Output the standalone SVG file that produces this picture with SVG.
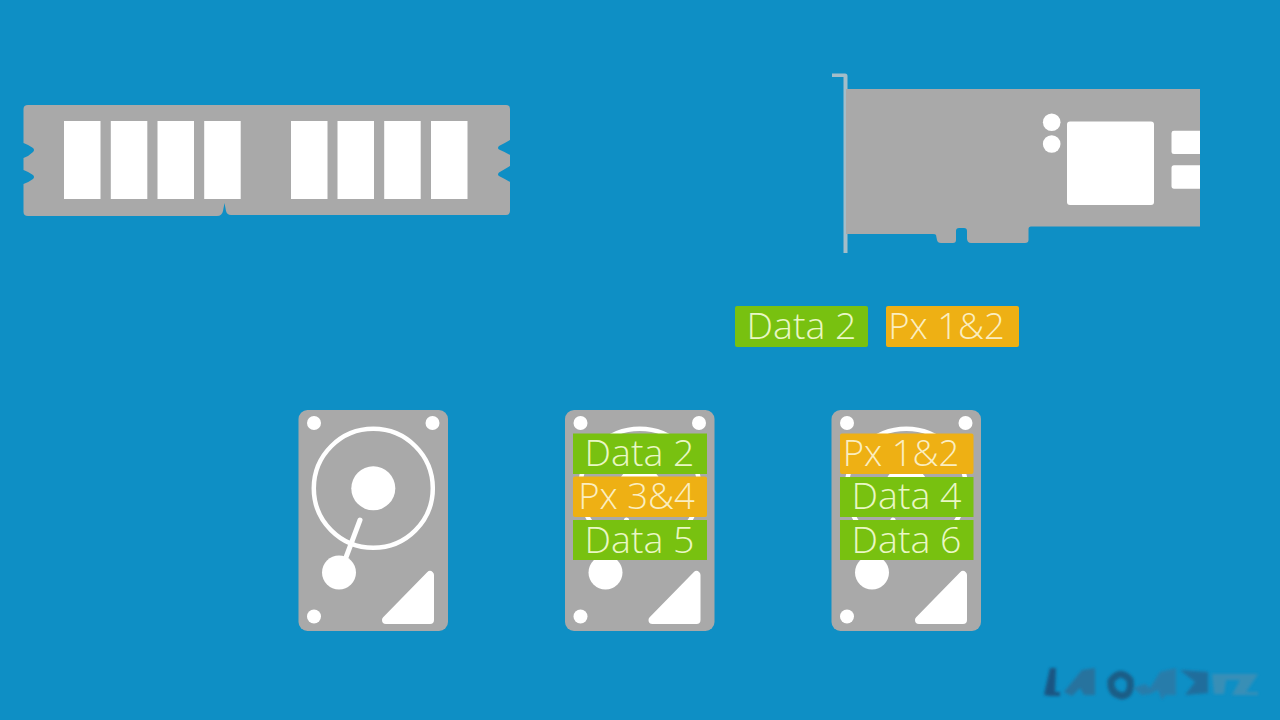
<svg xmlns="http://www.w3.org/2000/svg" width="1280" height="720" viewBox="0 0 1280 720">
<defs>
<style>
.g{fill:#a9a9a9}
.w{fill:#fff}
.gr{fill:#78c110}
.or{fill:#eeb014}
text{font-family:"Open Sans","Liberation Sans",sans-serif;font-weight:300;font-size:37.500px;fill:#e9f7c4;text-anchor:middle}
.or+text{fill:#fbeec0;font-size:36.500px}
</style>
<filter id="b" x="-10%" y="-30%" width="120%" height="160%"><feGaussianBlur stdDeviation="1.600"/></filter>
<g id="hdd">
<rect class="g" x="298.500" y="410" width="149.500" height="221" rx="9"/>
<circle class="w" cx="314" cy="423" r="7"/>
<circle class="w" cx="432.500" cy="423" r="7"/>
<circle class="w" cx="314" cy="616.500" r="7"/>
<circle cx="373.300" cy="488.300" r="59.500" fill="none" stroke="#fff" stroke-width="4.500"/>
<circle class="w" cx="373.300" cy="488.300" r="22"/>
<line x1="345" y1="560" x2="360" y2="520" stroke="#fff" stroke-width="5" stroke-linecap="round"/>
<circle class="w" cx="339" cy="572.500" r="17"/>
<path class="w" stroke="#fff" stroke-width="8" stroke-linejoin="round" d="M386 620L430 575V620Z"/>
</g>
</defs>
<rect width="1280" height="720" fill="#0e8fc5"/>
<g id="connectors"/>
<g id="ram">
<path class="g" d="M28 105H506Q510 105 510 109V140Q505 143 499 146Q497 148 499 149.500Q505 152 510 155V166Q505 169 499 172.500Q497 174.500 499 176Q505 179 510 182V211Q510 215 506 215H231Q227 215 226 211L224.500 203L223 211Q222 216 217 216H28Q23.500 216 23.500 212V184Q29 182 33 179Q35 177 33 175Q29 172 23.500 170V158Q29 156 33 152Q35 150 33 148Q29 145 23.500 143V109Q23.500 105 28 105Z"/>
<rect class="w" x="64" y="121" width="36.500" height="78"/>
<rect class="w" x="110.800" y="121" width="36.500" height="78"/>
<rect class="w" x="157.500" y="121" width="36.500" height="78"/>
<rect class="w" x="204.200" y="121" width="36.500" height="78"/>
<rect class="w" x="291" y="121" width="36.500" height="78"/>
<rect class="w" x="337.500" y="121" width="36.500" height="78"/>
<rect class="w" x="384.200" y="121" width="36.500" height="78"/>
<rect class="w" x="431" y="121" width="36.500" height="78"/>
</g>
<g id="nic">
<path fill="#a3bdc9" d="M832 73.500H845Q847.500 73.500 847.500 76V253H843.500V77H832Z"/>
<path class="g" d="M846 89H1200V226.500H1031Q1028.500 226.500 1028.500 229V240Q1028.500 243 1025 243H971Q967.500 243 967 239V231Q967 228 964 228H959Q956 228 956 231V240Q956 243 953 243H941Q937.500 243 937 240L936 235Q935.500 234 933 234H846Z"/>
<rect class="w" x="1067" y="121.500" width="87" height="83.500" rx="3"/>
<circle class="w" cx="1051.700" cy="122.300" r="8.800"/>
<circle class="w" cx="1051.700" cy="144" r="8.800"/>
<path class="w" d="M1174 130.700H1200V154H1174Q1171.500 154 1171.500 151.500V133Q1171.500 130.700 1174 130.700Z"/>
<path class="w" d="M1174 165.300H1200V188.700H1174Q1171.500 188.700 1171.500 186V168Q1171.500 165.300 1174 165.300Z"/>
</g>
<g id="tag-data-2"><rect class="gr" x="735" y="306" width="133" height="41" rx="2"/><text x="801.500" y="339">Data 2</text></g>
<g id="tag-px-1-2"><rect class="or" x="886" y="306" width="133" height="41" rx="2"/><text x="946.500" y="339">Px 1&amp;2</text></g>
<g id="disk-1"><use href="#hdd"/></g>
<g id="disk-2">
<use href="#hdd" x="266.500"/>
<rect class="gr" x="573" y="433.500" width="134" height="40.500"/><text x="639.500" y="466">Data 2</text>
<rect class="or" x="573" y="476.500" width="134" height="40.500" rx="2"/><text x="636.500" y="509">Px 3&amp;4</text>
<rect class="gr" x="573" y="520" width="134" height="40"/><text x="639.500" y="553">Data 5</text>
</g>
<g id="disk-3">
<use href="#hdd" x="533"/>
<rect class="or" x="840" y="433.500" width="133.500" height="40.500" rx="2"/><text x="901" y="466">Px 1&amp;2</text>
<rect class="gr" x="840" y="477" width="133.500" height="40"/><text x="906.500" y="509">Data 4</text>
<rect class="gr" x="840" y="520" width="133.500" height="40"/><text x="906.500" y="553">Data 6</text>
</g>
<g id="watermark" filter="url(#b)" opacity=".9">
<path fill="#1a4f7c" d="M1044 695L1050 668L1056 668L1055 692L1060 692V696H1050Z"/>
<path fill="#2a6f9a" d="M1064 692L1082 670L1095 668L1095 695H1084L1080 688L1072 696Z"/>
<path fill="none" stroke="#1d5880" stroke-width="7" d="M1111 681Q1120 668 1130 680Q1132 695 1122 696Q1110 694 1111 681Z"/>
<path fill="#2b7aa8" d="M1133 688L1145 684L1150 688L1160 672L1176 668V695H1165L1162 700L1158 690L1150 694L1142 695Z"/>
<path fill="#216a98" d="M1180 670L1208 672V693L1185 695L1195 682Z"/>
<path fill="#3d8fb5" d="M1212 674H1258L1246 692H1258V695H1232L1240 680H1226L1224 694H1214Z"/>
</g>
</svg>
